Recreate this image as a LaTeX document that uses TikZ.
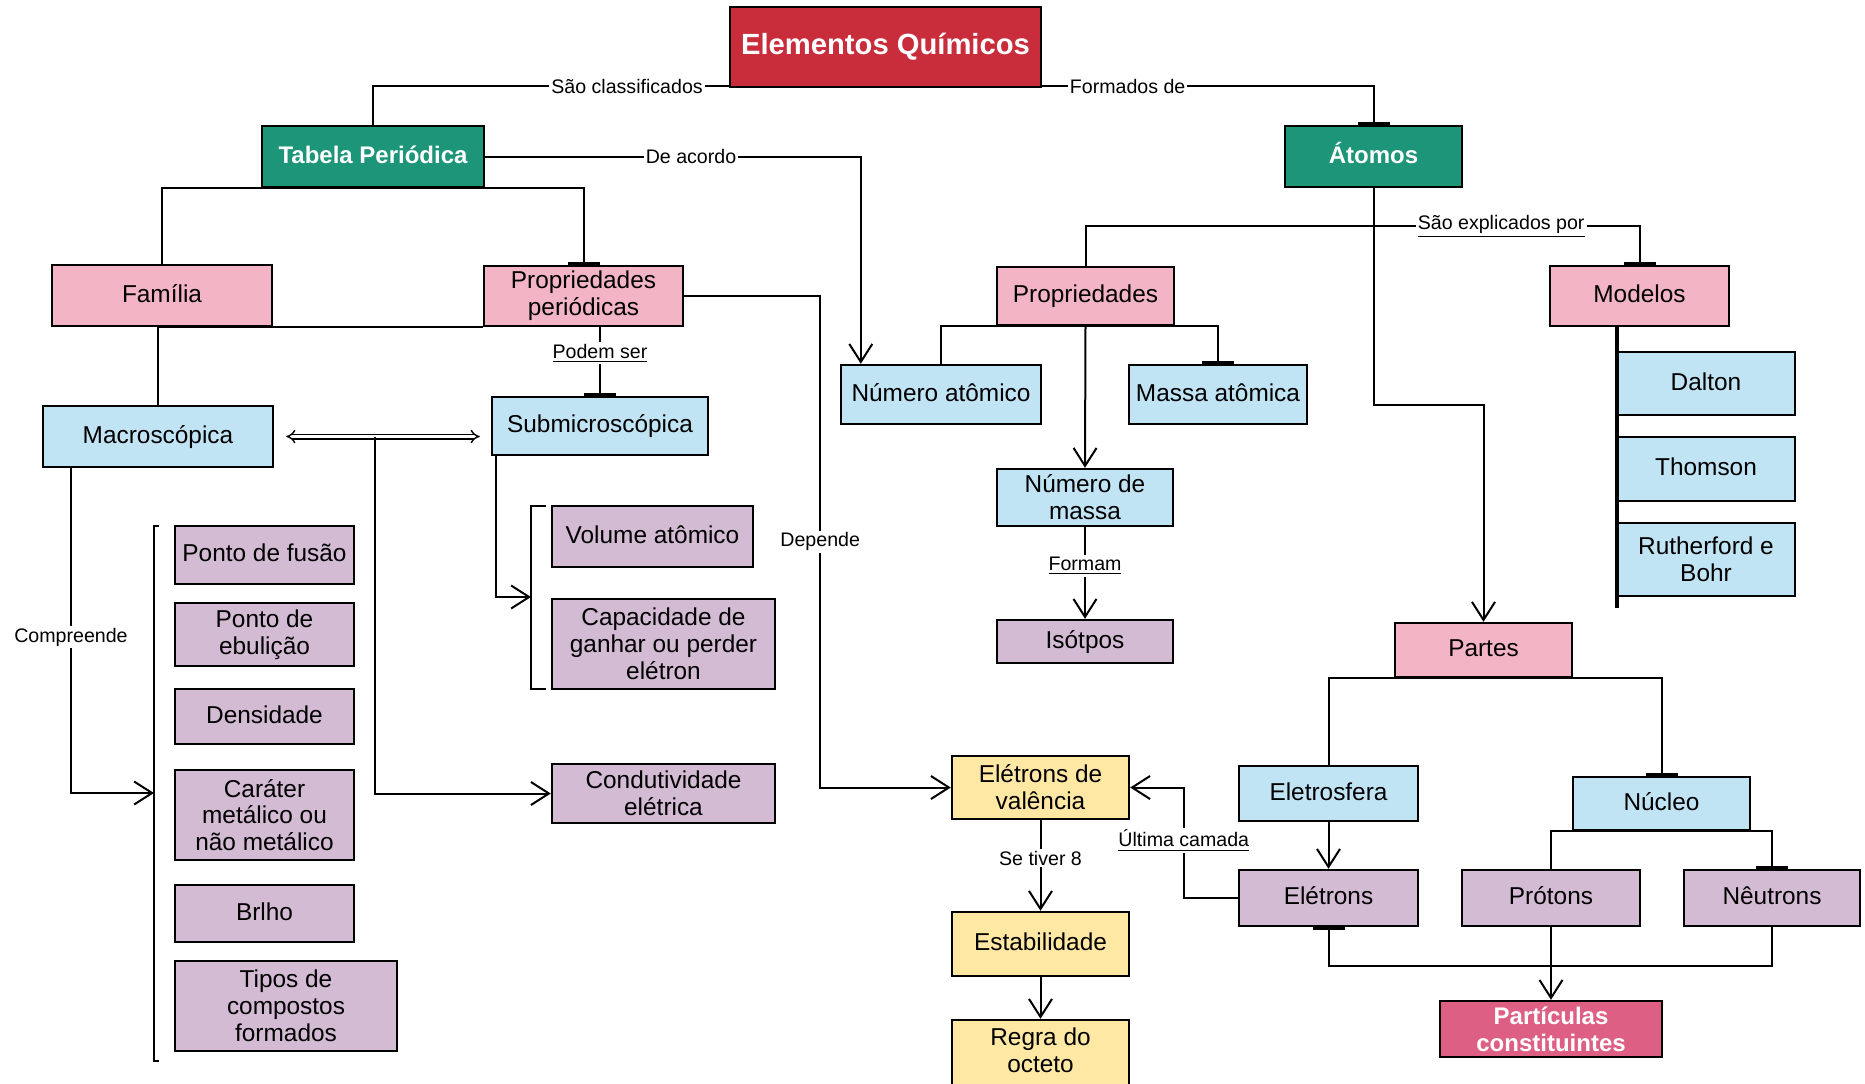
\documentclass[tikz,border=0pt]{standalone}
\usepackage{fontspec}
\setmainfont{Liberation Sans}
\usetikzlibrary{arrows.meta,calc}
\definecolor{redc}{RGB}{201,44,58}
\definecolor{greenc}{RGB}{28,149,121}
\definecolor{pinkc}{RGB}{243,180,198}
\definecolor{bluec}{RGB}{193,228,245}
\definecolor{mauvec}{RGB}{211,187,211}
\definecolor{yellowc}{RGB}{255,232,163}
\definecolor{partc}{RGB}{222,95,132}
\begin{document}
\begin{tikzpicture}[x=0.5pt,y=-0.5pt,
  box/.style={draw=black,line width=1.2pt,inner sep=2pt,align=center,font=\fontsize{12.2}{13.4}\selectfont,text=black},
  sl/.style={text height=9.2pt,text depth=2.4pt},
  boldtxt/.style={font=\fontsize{12}{13.4}\selectfont\bfseries,text=white},
  conn/.style={line width=1pt},
  arr/.style={conn,-{Straight Barb[length=9pt,width=11.5pt]}},
  tbar/.style={conn,-{Bar[width=16pt,line width=1.6pt]}},
  lbl/.style={fill=white,inner sep=1pt,font=\fontsize{9.8}{11}\selectfont},
  dblarr/.style={double,double distance=1.6pt,line width=0.7pt,{Implies}-{Implies}}
]
\useasboundingbox[fill=white] (0,0) rectangle (1865,1083);

% ---------- nodes ----------
\node[box,fill=redc,minimum width=155.5pt,minimum height=40pt,font=\fontsize{14.6}{16}\selectfont\bfseries,text=white] (elem) at (885.5,47) {Elementos Químicos};
\node[box,sl,fill=greenc,boldtxt,minimum width=111pt,minimum height=30.5pt] (tabela) at (373,156.5) {Tabela Periódica};
\node[box,sl,fill=greenc,boldtxt,minimum width=88.5pt,minimum height=30.5pt] (atomos) at (1373.5,156.5) {Átomos};

\node[box,sl,fill=pinkc,minimum width=110pt,minimum height=30.5pt] (familia) at (162,295.5) {Família};
\node[box,fill=pinkc,minimum width=99.5pt,minimum height=30pt] (propper) at (583.5,296) {Propriedades\\periódicas};
\node[box,sl,fill=bluec,minimum width=115pt,minimum height=30.5pt] (macro) at (158,436.5) {Macroscópica};
\node[box,sl,fill=bluec,minimum width=108pt,minimum height=29pt] (submicro) at (600,426) {Submicroscópica};

\node[box,sl,fill=mauvec,minimum width=89.5pt,minimum height=29pt] (pfusao) at (264.5,555) {Ponto de fusão};
\node[box,fill=mauvec,minimum width=89.5pt,minimum height=31.5pt] (pebul) at (264.5,634.5) {Ponto de\\ebulição};
\node[box,sl,fill=mauvec,minimum width=89.5pt,minimum height=27.5pt] (dens) at (264.5,716.5) {Densidade};
\node[box,fill=mauvec,minimum width=89.5pt,minimum height=45pt] (carater) at (264.5,815) {Caráter\\metálico ou\\não metálico};
\node[box,sl,fill=mauvec,minimum width=89.5pt,minimum height=28.5pt] (brilho) at (264.5,913.5) {Brlho};
\node[box,fill=mauvec,minimum width=111pt,minimum height=45pt] (tipos) at (286,1006) {Tipos de\\compostos\\formados};

\node[box,sl,fill=mauvec,minimum width=100.5pt,minimum height=30.5pt] (volume) at (652.5,536.5) {Volume atômico};
\node[box,fill=mauvec,minimum width=111.5pt,minimum height=45pt] (capac) at (663.5,644) {Capacidade de\\ganhar ou perder\\elétron};
\node[box,fill=mauvec,minimum width=111.5pt,minimum height=29.5pt] (condut) at (663.5,793.5) {Condutividade\\elétrica};

\node[box,sl,fill=bluec,minimum width=100pt,minimum height=29.5pt] (numat) at (941,394.5) {Número atômico};
\node[box,sl,fill=bluec,minimum width=89pt,minimum height=29.5pt] (massaat) at (1218,394.5) {Massa atômica};
\node[box,sl,fill=pinkc,minimum width=88.5pt,minimum height=29pt] (props) at (1085.5,296) {Propriedades};
\node[box,sl,fill=pinkc,minimum width=89.5pt,minimum height=30pt] (modelos) at (1639.5,296) {Modelos};
\node[box,fill=bluec,minimum width=88pt,minimum height=28.5pt] (nummassa) at (1085,497.5) {Número de\\massa};
\node[box,sl,fill=mauvec,minimum width=88pt,minimum height=21.5pt] (isotopos) at (1085,641.5) {Isótpos};

\node[box,sl,fill=bluec,minimum width=89pt,minimum height=31.5pt] (dalton) at (1706,383.5) {Dalton};
\node[box,sl,fill=bluec,minimum width=89pt,minimum height=32pt] (thomson) at (1706,469) {Thomson};
\node[box,fill=bluec,minimum width=89pt,minimum height=36.5pt] (ruth) at (1706,559.5) {Rutherford e\\Bohr};

\node[box,sl,fill=pinkc,minimum width=88.5pt,minimum height=27pt] (partes) at (1483.5,650) {Partes};
\node[box,sl,fill=bluec,minimum width=89.5pt,minimum height=27.5pt] (eletrosfera) at (1328.5,793.5) {Eletrosfera};
\node[box,sl,fill=bluec,minimum width=88.5pt,minimum height=26.5pt] (nucleo) at (1661.5,803.5) {Núcleo};
\node[box,sl,fill=mauvec,minimum width=89.5pt,minimum height=28pt] (eletrons) at (1328.5,898) {Elétrons};
\node[box,sl,fill=mauvec,minimum width=89pt,minimum height=28pt] (protons) at (1551,898) {Prótons};
\node[box,sl,fill=mauvec,minimum width=88pt,minimum height=28pt] (neutrons) at (1772,898) {Nêutrons};
\node[box,fill=partc,boldtxt,minimum width=111pt,minimum height=28pt] (particulas) at (1551,1029) {Partículas\\constituintes};

\node[box,fill=yellowc,minimum width=88.5pt,minimum height=31.5pt] (ev) at (1040.5,787.5) {Elétrons de\\valência};
\node[box,sl,fill=yellowc,minimum width=88.5pt,minimum height=32pt] (estab) at (1040.5,944) {Estabilidade};
\node[box,fill=yellowc,minimum width=88.5pt,minimum height=35pt,text depth=5pt] (regra) at (1040.5,1055) {Regra do\\octeto};

% ---------- brackets ----------
\coordinate (brk1) at (154,793);
\coordinate (brk2) at (531,597);
\draw[conn] (159,526) -- (154,526) -- (154,1061) -- (159,1061);
\draw[conn] (546,506) -- (531,506) -- (531,689) -- (546,689);

% ---------- connectors ----------
\draw[conn] ([yshift=1pt]elem.south west) -| node[lbl,pos=0.143]{São classificados} (tabela.north);
\draw[tbar] ([yshift=1pt]elem.south east) -| node[lbl,pos=0.129]{Formados de} (atomos.north);
\draw[arr] (tabela.east) -| node[lbl,pos=0.274]{De acordo} ([xshift=10.5pt]numat.north west);
\draw[conn] (tabela.south) -| (familia.north);
\draw[tbar] (tabela.south) -| (propper.north);
\draw[conn] (propper.south west) -| (macro.north);
\draw[tbar] (submicro.north |- propper.south) -- node[lbl,pos=0.38]{\underline{Podem ser}} (submicro.north);
\draw[arr] (propper.east) -- ++(136,0) |- node[lbl,pos=0.25]{Depende} (ev.west);
\draw[dblarr] ([xshift=6pt]macro.east) -- coordinate[pos=0.46] (dm) ([xshift=-5.5pt]submicro.west |- macro.east);
\draw[arr] (dm) |- (condut.west);
\draw[arr] ([xshift=-43.5pt]macro.south) |- node[lbl,pos=0.26]{Compreende} (brk1);
\draw[arr] ([xshift=-52pt]submicro.south) |- (brk2);

\coordinate (j1) at ($(atomos.south)+(0,38)$);
\draw[conn] (atomos.south) -- (j1);
\draw[conn] (j1) -| (props.north);
\draw[tbar] (j1) -| node[lbl,pos=0.24]{\underline{São explicados por}} (modelos.north);
\draw[arr] (j1) -- ++(0,179) -| (partes.north);
\draw[conn] (props.south) -| (numat.north);
\draw[tbar] (props.south) -| (massaat.north);
\draw[arr] (props.south) -- (nummassa.north);
\draw[arr] (nummassa.south) -- node[lbl,pos=0.42]{\underline{Formam}} (isotopos.north);
\draw[line width=1.6pt] ([xshift=-11.25pt]modelos.south) -- ++(0,281);

\draw[conn] (partes.south) -| (eletrosfera.north);
\draw[tbar] (partes.south) -| (nucleo.north);
\draw[arr] (eletrosfera.south) -- (eletrons.north);
\draw[conn] (nucleo.south) -| (protons.north);
\draw[tbar] (nucleo.south) -| (neutrons.north);
\coordinate (jp) at ($(protons.south)+(0,39)$);
\draw[conn,{Bar[width=16pt,line width=1.6pt]}-] (eletrons.south) |- (jp);
\draw[conn] (neutrons.south) |- (jp);
\draw[arr] (protons.south) -- (particulas.north);
\draw[arr] (eletrons.west) -- ++(-54,0) |- node[lbl,pos=0.26]{\underline{Última camada}} (ev.east);
\draw[arr] (ev.south) -- node[lbl,pos=0.42]{Se tiver 8} (estab.north);
\draw[arr] (estab.south) -- (regra.north);
\end{tikzpicture}
\end{document}
